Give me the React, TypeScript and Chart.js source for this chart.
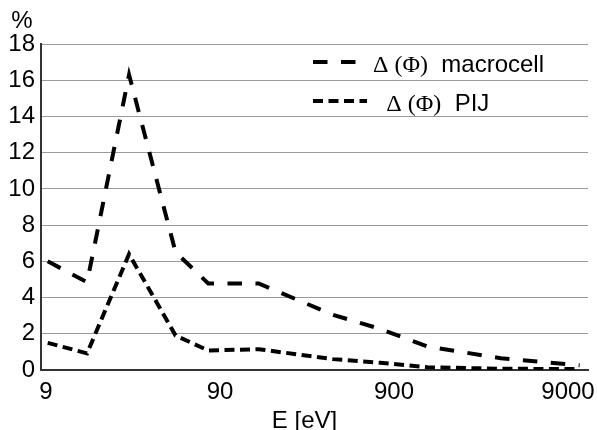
import React, { useEffect, useRef } from "react";
import { Chart, registerables } from "chart.js";

Chart.register(...registerables);

// ---- data ----
const energies = [9.2, 15.5, 27, 50, 77, 150, 400, 750, 1400, 3700, 10500];
const macrocellValues = [6.0, 4.85, 16.3, 6.5, 4.78, 4.78, 3.05, 2.27, 1.3, 0.65, 0.26];
const pijValues = [1.5, 0.92, 6.4, 1.9, 1.08, 1.15, 0.6, 0.4, 0.15, 0.07, 0.05];
const seriesLabels = ["Δ (Φ)  macrocell", "  Δ (Φ)  PIJ"];
const xTickValues = [9, 90, 900, 9000];
const X_TITLE = "E [eV]";
const Y_TITLE = "%";

const SANS = "'Liberation Sans', Arial, sans-serif";
const SERIF = "'Liberation Serif', 'Times New Roman', serif";

const legendPlugin = {
  id: "customLegend",
  afterDatasetsDraw(chart: any) {
    const { ctx, chartArea } = chart;
    ctx.save();
    chart.data.datasets.forEach((ds: any, i: number) => {
      const x0 = chartArea.left + 272;
      const y = chartArea.top + 18 + i * 39;
      ctx.beginPath();
      ctx.setLineDash(ds.borderDash || []);
      ctx.lineWidth = ds.borderWidth;
      ctx.strokeStyle = ds.borderColor;
      ctx.lineCap = "butt";
      ctx.moveTo(x0, y);
      ctx.lineTo(x0 + 54, y);
      ctx.stroke();
      ctx.setLineDash([]);

      const label: string = ds.label;
      const m = label.match(/^(\s*)(.*?\))(.*)$/);
      const parts = m
        ? [
            { t: m[1], f: SANS },
            { t: m[2], f: SERIF },
            { t: m[3], f: SANS },
          ]
        : [{ t: label, f: SANS }];
      let tx = x0 + 60;
      ctx.fillStyle = "#000";
      ctx.textAlign = "left";
      ctx.textBaseline = "alphabetic";
      parts.forEach((p) => {
        ctx.font = `24px ${p.f}`;
        ctx.fillText(p.t, tx, y + 10);
        tx += ctx.measureText(p.t).width;
      });
    });
    ctx.restore();
  },
};

const titlesPlugin = {
  id: "axisTitles",
  afterDraw(chart: any) {
    const { ctx, chartArea } = chart;
    ctx.save();
    ctx.font = `24px ${SANS}`;
    ctx.fillStyle = "#000";
    ctx.textAlign = "center";
    ctx.textBaseline = "alphabetic";
    ctx.fillText(Y_TITLE, chartArea.left - 19, chartArea.top - 16);
    ctx.fillText(X_TITLE, (chartArea.left + chartArea.right) / 2 - 10, chart.height - 2);
    ctx.restore();
  },
};

export default function App() {
  const canvasRef = useRef<HTMLCanvasElement | null>(null);

  useEffect(() => {
    document.body.style.margin = "0";
    const canvas = canvasRef.current;
    if (!canvas) return;
    const chart = new Chart(canvas, {
      type: "line",
      data: {
        datasets: [
          {
            label: seriesLabels[0],
            data: energies.map((x, i) => ({ x, y: macrocellValues[i] })),
            borderColor: "#000",
            borderWidth: 4,
            borderDash: [14.5, 13.5],
            pointRadius: 0,
            tension: 0,
            fill: false,
          },
          {
            label: seriesLabels[1],
            data: energies.map((x, i) => ({ x, y: pijValues[i] })),
            borderColor: "#000",
            borderWidth: 4,
            borderDash: [10, 5.5],
            pointRadius: 0,
            tension: 0,
            fill: false,
          },
        ],
      },
      options: {
        responsive: false,
        animation: false,
        devicePixelRatio: 1,
        layout: { padding: { left: 0, right: 9, top: 44, bottom: 0 } },
        plugins: {
          legend: { display: false },
          title: { display: false },
          tooltip: { enabled: false },
        },
        scales: {
          x: {
            type: "logarithmic",
            min: 8.42,
            max: 11730,
            afterBuildTicks: (scale: any) => {
              scale.ticks = xTickValues.map((v) => ({ value: v }));
            },
            afterFit: (scale: any) => {
              scale.height = 60;
            },
            grid: { display: false, drawTicks: true, tickLength: 8 },
            border: { display: true, color: "#333", width: 2 },
            ticks: {
              padding: 0,
              autoSkip: false,
              maxRotation: 0,
              color: "#000",
              font: { family: SANS, size: 24 },
              callback: (v: any) => String(v),
            },
          },
          y: {
            min: 0,
            max: 18,
            afterFit: (scale: any) => {
              scale.width = 41;
            },
            grid: { color: "#9a9a9a", lineWidth: 1, drawTicks: false },
            border: { display: true, color: "#333", width: 2 },
            ticks: {
              stepSize: 2,
              padding: 6,
              color: "#000",
              font: { family: SANS, size: 24 },
            },
          },
        },
      },
      plugins: [legendPlugin, titlesPlugin],
    });
    return () => chart.destroy();
  }, []);

  return (
    <div style={{ width: 597, height: 430, background: "#fff" }}>
      <canvas ref={canvasRef} width={597} height={430} style={{ display: "block" }} />
    </div>
  );
}
